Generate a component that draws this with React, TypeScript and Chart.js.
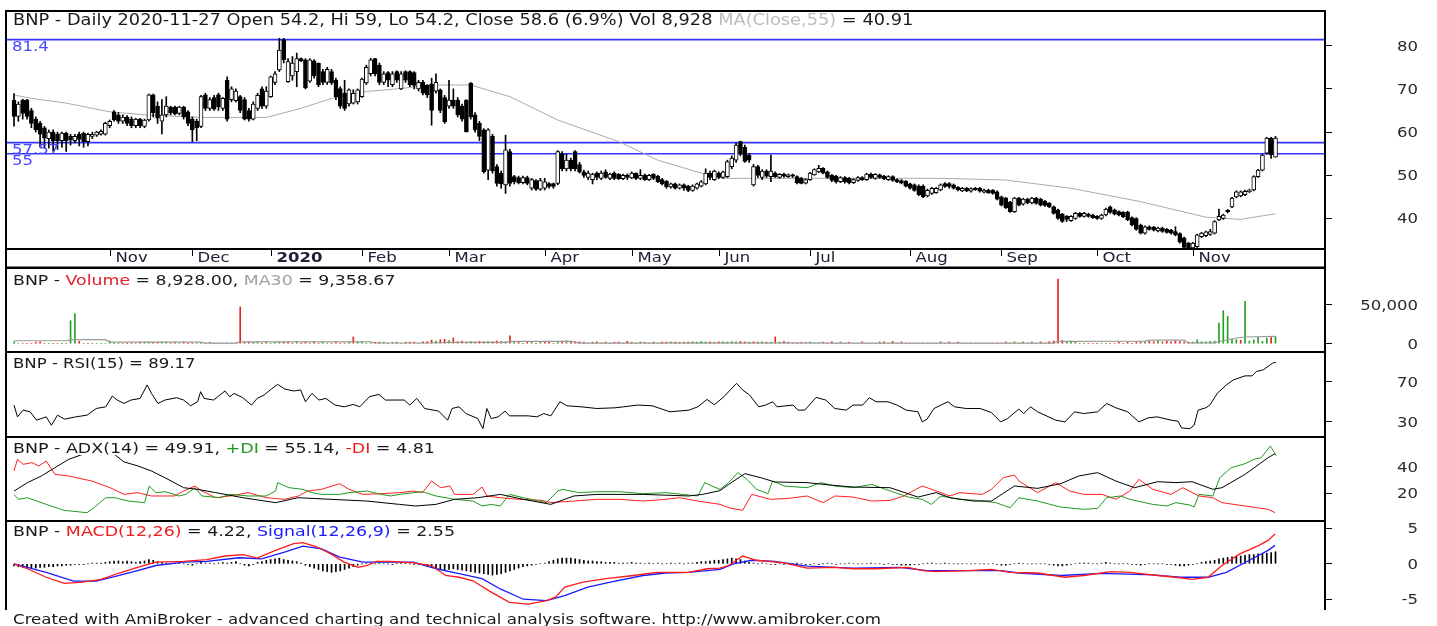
import React, { useEffect, useRef } from "react";
import { Chart, registerables } from "chart.js";

Chart.register(...registerables);

const FONT = '"DejaVu Sans", Verdana, sans-serif';
const STRETCH = 1.18;
const INK = "#1a1a1a";

// ---------------- price data (bar index 0 .. 290) ----------------
const opens = [
  67.4,63.6,67.4,67.4,65,63,62,61,58.5,60,
  59.5,58,59.8,59,58,59.5,59.7,57.8,59,59.3,
  59.5,59.5,61.5,64.7,64,62.5,63.5,63,61.5,63,
  61.3,62.8,68.6,66,62.5,64,65.8,65.8,64.3,65.8,
  64.7,63,62.5,61.3,68.6,65.5,68,68.6,65.5,72,
  67.5,67.3,68.2,67.5,65,63,65.5,70,66,68.2,
  71.5,74.4,81.4,71.7,73,74,77,76.7,71.8,76.5,
  75.9,74,71.5,74,72,70.1,69,66.5,66.7,67,
  68.2,71.4,73.5,77,75.5,71.5,73.8,71,74,70,
  74,74,73.8,70,71.5,70.8,71.1,69.5,69.8,68,
  66,67.4,67.4,66,67.4,71.3,64,62,60.5,51.2,
  59,52,50.5,47.8,55.5,49.7,49.5,48.3,49.5,47,
  48.8,46.8,47,48.1,48.1,48.1,55,51.5,53.5,55.5,
  52.5,50.8,49.5,49,50.5,49.3,50.8,49.3,50.5,50.2,
  49.2,50,49.4,50.5,49.3,50,49,50.2,49.8,49,
  48.6,47.3,48,47,47.8,47.5,46.5,47,47.5,48,
  50.5,49,50.5,49.5,49.7,52,53.5,57.8,56.5,54.7,
  47.8,52,49.5,51,49.7,50.5,49.5,50.2,49.7,50.1,
  49.7,49.3,48.2,49,50.1,50.8,51.6,50.8,50,49.8,
  48.5,49.5,49.3,48.3,48.8,49.5,49,50.3,49.3,50.1,
  49.8,49,49.7,49,48.8,48.6,48,47.8,47.5,47.5,
  45.2,45.8,46,46.6,48.1,48.1,47.8,47.2,46.4,47,
  46.3,47,47,46.1,46.6,46.5,46.2,45,44.7,43.8,
  41.6,44.7,43.3,44.5,43.6,44.7,44.5,44,43.5,42.7,
  42,41,40.5,39.5,40,41.2,40.5,41,40.8,40.5,
  40,40.8,42.7,42,41.6,41.4,41.5,40.2,40,38.5,
  36.6,38.1,38,37.1,37.8,37.5,37.3,37,36.5,35.5,
  34.3,33.2,33.5,35.8,36,36.3,36.6,39.7,40,41.9,
  42.7,45,45.2,45.5,46.2,46.6,49.7,51.2,55.1,58.6,54.2,
];
const highs = [
  68.9,67,67.6,67.6,65.5,63.5,62.5,61.3,60.5,60.5,
  60,60,60,59.5,59.5,60,60,59.8,60,60.2,
  60.5,62.3,62.8,65,64.5,64,63.8,63.5,63.2,63.2,
  63,68.8,68.8,67,67.5,68.2,66,66,66,66,
  65,63.5,63,68.5,69,68,68.5,69,68,72.8,
  70.5,70,68.5,68,65.5,67,69,70.5,70.5,73,
  74,81.7,81.7,77,77.5,78.3,77.2,77,77,76.8,
  76,74.5,75,74.5,72.5,70.5,72,70,69.8,70,
  72.5,75.5,77.1,77.1,76,74,74,74,74.2,74,
  74.2,74.2,74,72,72,71,72.5,73.5,70,68.5,
  72,70,68,66.5,67.5,71.5,64.5,62.5,60.8,60.8,
  59.5,52.5,51,59.3,56,50,49.8,49.8,49.8,49.3,
  49,49.3,49.3,48.3,48.2,55.7,55.5,55,54,55.7,
  53,51.2,51,50.5,50.8,51,51.3,50.5,50.8,50.4,
  50.3,50.3,50.8,50.6,51.3,50.3,50.2,50.4,50,49.3,
  48.8,48.2,48.2,48,48,47.7,47.8,48.2,48.8,51.5,
  51,51.2,50.8,51,53.5,54.5,57.4,57.9,57,55,
  52.5,52.3,51.3,51.3,54.7,50.8,50.4,50.5,50.3,50.3,
  49.9,49.5,49.2,50.7,51.5,52.3,51.8,51,50.2,50,
  49.7,49.7,49.5,49.2,49.7,49.7,50.5,50.5,50.4,50.3,
  50,49.9,49.9,49.2,49,48.8,48.2,48,47.8,47.8,
  46.8,47.2,47.2,48,48.3,48.3,48,47.4,47.2,47.2,
  47.1,47.2,47.2,46.8,46.8,46.7,46.4,45.2,44.9,44,
  44.9,44.9,44.7,44.7,44.9,44.9,44.7,44.2,43.7,42.9,
  42.2,41.2,40.7,40.7,41.4,41.4,41.4,41.2,41,40.7,
  41,42.4,42.9,42.2,41.8,41.6,41.7,40.4,40.2,38.7,
  38.3,38.3,38.2,38,38,37.7,37.5,38.1,36.7,35.7,
  34.5,34.5,36.4,36.8,37.1,37.5,39.5,42.2,41,42.1,
  44.9,46.4,46.4,46.6,46.8,49.9,51.4,54.9,58.8,58.8,59,
];
const lows = [
  61.4,62.5,63,63,61,60,56.5,56.3,56.3,55.5,
  56,56.5,55.5,57,57.5,56.8,56.5,56.8,58.5,59,
  59.3,59.3,61,62.5,62,62,61.5,61,61,61,
  61,62.5,63.5,62,59.6,63.5,64,64,64,63,
  61.5,57.8,58,61,65,65,65,65,65,62.5,
  67,67,64.5,62.8,62.5,62.8,65,65.5,65.5,68,
  71,74,76,71.5,72,70.5,76.3,70,71.5,72.5,
  70.5,71,71,71,67.5,65.5,65,66,66.5,66.5,
  68,71,73,73,71,71,70.5,70.5,71.5,69.8,
  71.5,70.5,70,69.5,68.6,68,61.6,69,64.5,62,
  65.5,65.5,63.5,62.5,60,63,60,58,50.5,49,
  50.5,47.5,47,45.8,47.5,48,48,48,47.8,46.6,
  46.5,46.5,46.6,47,47,47.8,51,51,51,51,
  50.5,49.5,49,48,49,49,49.3,49,49,49,
  49,49,49.2,49,49,48.8,48.8,49,48.3,47.8,
  47,47,46.8,46.8,46.5,46.2,46.3,46.8,47.3,47.8,
  49,48.8,49.2,49.3,49.5,51.5,53,54.5,53,53,
  47.5,49.5,49,49.5,48.5,49.5,49.3,49.5,49.5,49.5,
  48,48,48,48.8,50,50.6,50.3,49.3,48.5,48.2,
  48.3,48.2,48,48.1,48.6,48.8,48.8,49.3,49.1,49.3,
  49,48.8,48.6,48.3,48,47.3,46.8,46.3,45.3,44.8,
  45,45.6,45.8,46.4,47.2,47,46.8,46.4,46.2,46.2,
  46.1,46.5,46.1,45.9,45.8,45.6,44.3,42.9,42.3,41.4,
  41.4,42.9,43.1,43.4,43.4,43.3,42.9,42.8,42.5,41,
  39.8,39.1,39.3,39.3,39.8,40.3,40.3,40.3,40,39.8,
  39.8,40.6,41.2,40.8,40.6,40.2,39.5,38.3,37.3,36.4,
  36.4,37.3,37.1,36.9,36.8,36.6,36.4,36,34.3,33.1,
  33,33,33.3,35.6,35.8,36.1,36.4,39.5,39.8,41.3,
  42.5,44.8,45,45.3,46,46.4,49.5,51,54.9,53.9,54.2,
];
const closes = [
  63.6,66.5,64.3,63.6,62,60.5,59.5,58.6,60,58,
  58,59.8,58,58.2,59,58.3,57.8,59.5,59.5,60,
  60.2,62,62.5,62.8,62.5,63.5,62,61.5,63,61.5,
  62.8,68.6,64.5,63.2,64,66,64.5,64.2,65.8,63.5,
  62,60.5,61,68.2,65.5,67.5,65.3,65.8,67.8,63,
  70,69.5,65,63,63,66.5,68.5,66,69.5,72.8,
  73.5,79,76.7,76.3,76,77,76.5,70.2,76.7,73,
  70.9,71.5,74.5,71.4,68.2,66,65.5,69.8,69,69.8,
  72.3,75,76.7,73.5,71.5,73.5,72,73.5,72,73.5,
  72,71,70.8,71.5,69,68.6,65,71.5,65,62.4,
  67.4,66,64,63,60.1,63.5,60.5,59,50.8,60.5,
  51,48.1,48,55.9,48.1,48.5,48.3,49.5,48.1,49,
  46.8,48.8,48.5,47.4,47.4,55.5,51.5,53.5,51.5,51.5,
  50.8,50,50.5,50.3,49.5,50.5,49.5,50.3,49.3,49.2,
  50,49.5,50.5,49.3,50,49,50,49.3,48.5,48,
  47.3,48,47,47.8,47,46.5,47.5,48,48.5,50.5,
  49.5,51,49.5,50.8,53.2,54,57,55,53.2,53.5,
  52,50,51,49.8,51,49.7,50.2,49.8,50.1,49.8,
  48.3,48.1,49,50.5,51.3,51.6,50.5,49.5,48.8,48.5,
  49.5,48.5,48.3,49,49.5,49,50.3,49.5,50.2,49.5,
  49.2,49.7,48.8,48.5,48.2,47.5,47,46.5,45.5,45,
  46.5,47,47,47.8,47.4,47.4,47,46.6,47,46.4,
  46.9,46.7,46.3,46.6,46,45.8,44.5,43.1,42.5,41.6,
  44.7,43.1,44.5,43.6,44.7,43.5,43.1,43,42.7,41.2,
  40,39.3,39.8,40.5,41.2,40.5,41.2,40.5,40.2,40,
  40.8,42.2,41.4,41,40.8,40.4,39.7,38.5,37.5,36.6,
  38.1,37.5,37.3,37.8,37,36.8,36.6,36.2,34.5,33.3,
  33.2,34.3,36.2,36.6,36.9,37,39.3,40.5,40.8,41.5,
  44.7,46.2,46.2,46.3,46.6,49.7,51.2,54.7,58.6,54.8,58.6,
];

// MA(Close,55): [bar, value]
const ma55Points = [
  [0,68.6],[4,67.8],[12,66.7],[22,64.7],[30,64],[43,63.4],[58,63.4],[66,65.5],[73,67.8],
  [81,69.4],[89,70.1],[96,70.9],[105,70.9],[114,68.2],[125,62.8],[139,57.8],[148,53.5],
  [158,50.5],[163,49.3],[213,49.3],[228,48.9],[243,47],[259,43.9],[274,40.3],[282,39.8],[290,41.1],
];

const levelValues = [81.4, 57.57, 55];
const levelLabels = ["81.4", "57.57", "55"];

// x-axis month marks (bar index of first bar of each month)
const monthTicks = [22, 41, 59, 80, 100, 122, 142, 162, 183, 206, 227, 249, 271];
const monthNames = ["Nov", "Dec", "2020", "Feb", "Mar", "Apr", "May", "Jun", "Jul", "Aug", "Sep", "Oct", "Nov"];

// ---------------- volume ----------------
const volumes = [
  2500,0,0,0,0,2000,2500,0,0,0,
  0,0,0,29500,38500,3000,0,0,0,0,
  0,0,3500,0,0,0,0,0,0,2000,
  2000,2200,1800,2000,2500,2000,0,2200,0,2500,
  0,0,0,0,0,2000,0,0,0,0,
  0,0,47000,2000,2200,1800,2000,0,2500,0,
  2200,2500,2300,2000,0,2200,0,1900,0,2000,
  0,2000,0,0,2100,0,0,2200,8600,2300,
  2000,0,0,1900,2000,2200,0,1800,2000,0,
  2000,2200,2100,0,2300,2600,4500,3500,5200,5500,
  4000,7300,2500,3500,2000,2800,2200,3000,2500,2800,
  2500,3200,2700,2400,10200,3000,2500,0,2200,2000,
  0,1800,2100,1900,0,2200,3500,4000,3200,2500,
  2400,2200,0,2000,2300,0,2100,0,1900,2200,
  0,3000,2000,0,2200,1800,0,2000,0,2000,
  2100,2300,2200,1900,2000,2200,2500,2000,2800,2200,
  2400,2100,2500,2300,2000,2600,2400,2800,2300,2100,
  2500,2200,2400,2000,2100,8600,2200,3000,2000,0,
  0,1900,0,2000,0,0,2100,0,2500,0,
  2200,0,2000,0,0,2400,0,0,0,2200,
  2500,0,2800,0,2300,0,0,0,0,0,
  0,0,0,2600,0,2200,0,2000,0,0,
  0,0,0,0,0,0,0,0,2300,0,
  2400,0,2200,0,2000,0,2300,0,2600,3500,
  83000,4000,2200,3500,2800,0,0,0,0,0,
  0,0,0,0,2200,0,2000,0,2300,2500,
  2800,3000,2500,4000,2200,3200,2500,3500,2800,2200,
  2000,2200,5000,2500,2300,3000,3500,26500,42300,35000,
  6000,5000,4500,54200,3500,5000,8100,3000,7000,8000,8928,
];
const ma30Points = [
  [0,3800],[12,3800],[13,4800],[14,5100],[21,5100],[22,2100],[43,2100],[44,800],[51,800],
  [52,2400],[82,2400],[83,900],[95,900],[100,1800],[113,1800],[114,3000],[128,3000],[130,800],
  [186,1000],[188,800],[239,800],[240,3000],[260,3200],[261,4500],[269,4500],[270,1000],
  [276,1000],[277,2500],[279,5100],[281,7300],[283,8600],[290,9359],
];

// ---------------- RSI(15) ----------------
const rsiPoints = [
  [0,46.7],[0.8,35],[2.1,41.7],[3.7,40],[5.2,31.7],[7.4,35],[8.6,26.7],[10,36.7],[11.6,32.7],
  [14.2,35],[16.8,36.7],[18.9,43.3],[21.1,45],[22.6,55.7],[23.7,51.7],[25.3,48.3],[26.9,51.7],
  [29,53.3],[30.6,66.7],[31.6,58.3],[33.1,48.3],[34.7,51.7],[37.4,54],[39,51.7],[40.6,46],
  [42.2,50],[42.9,60],[43.7,53.3],[45.9,51.7],[48.5,60.7],[49.6,55],[50.6,58.3],[52.6,54],
  [54.6,46.7],[55.9,53.3],[57.5,56.7],[58.9,61.7],[60.6,67.3],[62.2,62.7],[64.3,60.7],
  [65.9,61.7],[67,50],[68.5,58.3],[70.1,51.7],[71.7,53.3],[73.8,46.7],[75.9,45],[78,47.3],
  [79.5,45],[81.7,55],[83.9,57.3],[85.4,51.7],[89.7,51.7],[91,46.7],[92.6,53.3],[94.4,43.3],
  [97.6,40.7],[99.7,31.7],[100.7,43.3],[102.3,45],[103.9,38.3],[106.6,33.3],[107.8,23.3],
  [108.7,43.3],[109.7,33.3],[111.3,35],[112.9,40.7],[113.9,36],[118.2,36],[120.2,35],
  [121.8,38.3],[123.4,36],[125.5,50],[127.1,46],[130.3,45],[134,43.3],[138.2,44],[140.2,45],
  [143.4,46.7],[146.7,46],[150.8,40],[155.2,41.7],[157.2,45],[159.3,52.3],[161,47],[163.2,55],
  [166.1,68.3],[167.5,61.7],[169.1,56.7],[171.2,45],[172.8,46.7],[174.4,50],[175.4,45],
  [179.1,46.7],[180.2,41.7],[181.8,41.7],[184.4,54.3],[186.6,51.7],[188.7,43.3],[191.3,41.7],
  [192.9,46.7],[195.1,46.7],[196.6,54],[198.2,50],[200.9,50],[203,46.7],[205.1,41.7],
  [207.8,40],[208.8,30],[209.9,32.7],[211.5,43.3],[213.1,46.7],[214.7,50],[216.2,45],
  [218.9,43.3],[222.1,43.3],[224.7,39.3],[226.8,30],[228.4,33.3],[231,42.7],[232.1,38.3],
  [233.7,45],[235.3,40],[239.5,31.7],[241.6,30],[243.8,40],[245.9,38.3],[249.1,40],
  [251.2,48.3],[253.3,44],[256,40],[258.6,30],[260.7,34],[262.8,35],[266,31.7],[267.6,30.7],
  [268.4,24],[270.3,23.3],[271.3,26.7],[272.2,41.7],[274,44],[274.9,46.7],[276.6,58.3],
  [278.7,66.7],[280.3,71.7],[283,75.7],[284.6,75.7],[285.6,80],[287.2,81.7],[289.3,88.3],[290.1,89.2],
];

// ---------------- ADX(14), +DI, -DI ----------------
const adxPoints = [
  [0,21.7],[3.1,28],[6.3,33],[9.4,39.2],[12.6,45.5],[15.8,49.2],[18.6,53.5],[20.9,54.5],
  [22,52],[25.3,43.5],[28.5,40.5],[31.6,36.7],[34.7,31.7],[39,24.2],[42.1,23],[46.4,20.5],
  [52.6,16.7],[60.1,13],[65.3,16.7],[72.8,15.5],[81.1,14.2],[88.6,11.7],[92.3,10.5],[97,11.7],
  [101.3,15.5],[106.6,16.7],[111.8,19.2],[117.1,15.5],[123.4,11.7],[128.7,18],[134,19.2],
  [144.5,19.2],[155.1,18],[158.3,19.2],[162.3,22],[164.3,26.7],[168,34.7],[171.7,31.7],
  [174.9,28.5],[182.3,28],[187.6,26.2],[192.9,24.7],[201.4,24.2],[207.8,17.2],[212,20.5],
  [215.2,16.7],[220.5,14.2],[224.7,14.2],[230,25.5],[235.3,23.7],[240.6,27.2],[244.8,33],
  [249.1,35.5],[253.3,29.2],[257.6,24.2],[262.9,28.7],[267.1,28],[270.8,28.7],[275.6,23],
  [277.7,24.2],[283,34.2],[288.3,46.7],[289.9,49.7],
];
const plusDiPoints = [
  [0,19.2],[1,15.5],[3.1,16.7],[7.4,11.7],[11.6,7.2],[16.8,5.5],[17.9,8],[21.1,16.7],[23.2,16.7],
  [26.3,14.2],[30,13],[31.1,25.5],[32.6,20.5],[34.8,21.2],[37.9,18],[39.5,19.2],[41.6,24.2],
  [43.2,18],[47.4,16.7],[49.6,19.2],[53.8,18],[58,18],[60.1,21.7],[60.6,28],[63.2,24.2],
  [66.4,23],[68.5,20.5],[70.7,19.2],[74.9,19.2],[77,20.5],[81.2,21.7],[84.4,19.2],[86.5,18],
  [89.7,19.7],[93.9,21.2],[97,18],[101.3,15.5],[105.5,14.2],[107.6,10.5],[109.7,11.7],
  [111.8,10.5],[113.9,19.2],[117.1,16.7],[122.4,13],[125,21.7],[126.1,23],[129.8,20.5],
  [134,21.2],[139.3,21.2],[144.6,19.7],[149.8,20.5],[155.1,18.7],[157.2,18],[158.8,28],
  [160.4,25.5],[162.3,23],[164.3,28],[166.4,35.5],[168.5,30.5],[170.7,23],[173.3,19.7],
  [174.4,29.2],[177,25.5],[182.3,24.2],[185.5,28],[188.7,25.5],[192.9,24.2],[197.2,26.7],
  [200.3,23],[205.6,17.2],[208.8,15.5],[210.9,11.7],[213.1,18],[217.2,15.5],[221.5,14.7],
  [225.7,13],[229,9.2],[231,16.7],[235.3,14.2],[240.6,9.7],[245.9,8],[249.1,8.7],[251.2,16.7],
  [254.4,18],[256.5,15.5],[261.8,11.7],[265,10.5],[267.1,13],[270.3,11.2],[271.3,9.7],
  [272.4,19.2],[275.6,18],[277.2,31.7],[279.8,39.2],[283,42.2],[285.1,45.5],[286.7,46.7],
  [288.8,55.5],[290.2,48],
];
const minusDiPoints = [
  [0,36.7],[0.8,45.5],[2.1,41.7],[4.1,43],[5.7,40.5],[7.4,44.2],[9.4,34.2],[12.6,33],
  [17.9,29.2],[22.1,24.2],[25.3,19.2],[28.4,20.5],[31.6,18],[36.9,18],[39,21.7],[41.6,25.5],
  [43.2,21.7],[46.4,16.7],[49.6,18],[53.8,20.5],[58,16.7],[62.2,15.5],[65.4,18],[67.5,21.7],
  [70.7,23],[74.9,27.2],[77,23],[80.2,19.2],[84.4,19.7],[88.6,20.5],[91.8,21.7],[93.9,20.5],
  [96,29.2],[98.1,24.2],[100.2,25.5],[101.3,19.2],[105.5,19.2],[107.6,24.7],[108.7,18],
  [111.8,16.7],[116,15.5],[121.3,14.7],[123.4,13],[128.7,14.2],[134,15.5],[139.3,15.5],
  [144.6,14.2],[149.8,15.5],[153,16.7],[157.2,14.2],[162.3,11.7],[164.3,9.2],[167.5,7.2],
  [169.6,19.2],[173.9,15.5],[178.1,16.2],[182.3,18],[186,13],[188.7,18],[192.9,17.2],
  [197.2,14.2],[201.4,14.7],[204.6,18],[208.8,25.5],[212,21.7],[215.2,18],[217.3,20.5],
  [222.6,19.2],[224.7,23],[227.4,31.7],[230,33.7],[231,29.2],[235.3,20.5],[239.5,28],
  [242.7,21.7],[245.9,19.2],[250.1,19.2],[253.3,15.5],[256.5,21.7],[258.6,30.5],[261.8,23],
  [266,19.2],[268.7,24.2],[272.4,18],[275.6,16.7],[277.7,13],[283,10.5],[288.3,8],[289.9,5.5],
];

// ---------------- MACD(12,26), Signal(12,26,9) ----------------
const macdPoints = [
  [0,0],[3.1,-0.7],[7.4,-1.9],[11.6,-2.75],[15.8,-2.6],[20,-2.2],[24.2,-1.3],[28.4,-0.5],
  [32.6,0.24],[39,0.33],[44.3,0.6],[48.5,1.1],[52.7,1.3],[55.9,0.8],[60.1,1.9],[64.3,2.85],
  [66.4,3],[69.6,2.4],[72.8,1.4],[75.9,0.24],[79.1,-0.5],[81.2,-0.24],[83.3,0.33],[86.5,0.33],
  [91.8,0.14],[96,-0.24],[99.2,-1.65],[102.3,-1.9],[105.5,-2.4],[109.7,-4],[113.9,-5.45],
  [118.2,-5.7],[122.4,-5.2],[124.5,-4.7],[126.6,-3.3],[130.8,-2.6],[136.1,-2.1],[142.4,-1.65],
  [147.7,-1.2],[155.1,-1.2],[159.3,-0.7],[162.3,-0.6],[164.3,-0.24],[167.5,1.1],[170.7,0.5],
  [177,0.14],[182.3,-0.6],[188.7,-0.5],[192.9,-0.7],[198.2,-0.7],[205.6,-0.5],[208.8,-0.95],
  [212,-1.1],[219.4,-0.95],[224.7,-0.8],[229,-1.2],[235.3,-1.3],[241.6,-1.9],[245.9,-1.65],
  [252.2,-1.1],[256.5,-1.2],[262.9,-1.65],[267.1,-1.9],[270.8,-2.2],[274.5,-1.9],[277.7,-0.24],
  [281.8,1.4],[286.2,2.6],[288.3,3.3],[289.9,4.2],
];
const signalPoints = [
  [0,0],[7.4,-1.2],[13.7,-2.45],[18.9,-2.45],[24.2,-1.65],[28.4,-0.95],[32.6,-0.24],[39,0.24],
  [44.3,0.33],[51.7,0.85],[56.9,0.7],[62.2,1.66],[66.4,2.5],[70.7,2.1],[74.9,0.95],[80.2,0.24],
  [85.4,0.24],[91.8,0.24],[97.1,-0.7],[102.3,-1.4],[107.6,-2.1],[111.8,-3.55],[117.1,-5],
  [122.4,-5.2],[126.6,-4.5],[131.9,-3.3],[137.1,-2.6],[144.6,-1.65],[149.8,-1.3],[155.1,-1.2],
  [162.3,-0.8],[165.4,0],[169.6,0.5],[174.9,0.33],[182.3,-0.33],[192.9,-0.6],[203.5,-0.5],
  [209.9,-0.95],[219.4,-0.95],[226.8,-0.95],[231,-1.3],[240.6,-1.65],[250.1,-1.35],
  [261.8,-1.55],[268.1,-1.9],[274.5,-1.9],[278.7,-1.2],[284,0.5],[288.3,1.9],[289.9,2.6],
];
const macdHist = [
  -0.3,-0.4,-0.5,-0.5,-0.6,-0.6,-0.5,-0.5,-0.4,-0.4,
  -0.3,-0.3,-0.2,-0.2,-0.1,-0.1,-0.1,0,0.1,0.1,
  0.1,0.2,0.3,0.4,0.4,0.3,0.4,0.3,0.2,0.3,
  0.4,0.6,0.5,0.3,0.2,0.1,0,0.1,0.1,0,
  -0.1,-0.2,0,0.2,0.1,0.1,0,0.1,0.2,0.1,
  0.2,0.3,0,-0.2,-0.3,-0.1,0.2,0.3,0.5,0.6,
  0.7,0.8,0.6,0.5,0.4,0.3,0.1,-0.2,-0.4,-0.6,
  -0.8,-1,-1.1,-1.2,-1.1,-1,-0.8,-0.6,-0.4,-0.2,
  0,0.1,0.1,0,0.1,0,0,-0.1,0,0.1,
  0.1,0,-0.1,-0.1,-0.2,-0.3,-0.5,-0.6,-0.8,-0.9,
  -0.8,-0.7,-0.8,-0.9,-1,-1.1,-1.2,-1.3,-1.4,-1.5,
  -1.6,-1.5,-1.4,-1.2,-1,-0.8,-0.6,-0.4,-0.3,-0.2,
  -0.1,0,0.1,0.3,0.5,0.7,0.8,0.8,0.8,0.7,
  0.6,0.5,0.4,0.4,0.3,0.3,0.2,0.2,0.2,0.1,
  0.1,0.1,0.2,0.1,0.1,0,0.1,0,0.1,0,
  0,0.1,0,0.1,0,0.1,0.1,0.2,0.3,0.3,
  0.4,0.5,0.5,0.6,0.7,0.8,0.7,0.6,0.4,0.2,
  0.1,0,0.1,0,-0.1,-0.1,0,-0.1,0,0,
  0.1,0,-0.1,-0.1,0,-0.1,0,0.1,0,-0.1,
  0,0,0.1,0,0,0,0,0.1,0,0,
  -0.1,0,-0.1,-0.1,-0.2,-0.2,-0.2,-0.1,-0.1,0,
  0.1,0.1,0,0,0.1,0,0,0,0,0,
  0,0,0,0,0,0,-0.1,-0.2,-0.2,-0.1,
  0,0.1,0,0,0,0,0,0,-0.1,-0.2,
  -0.3,-0.3,-0.2,-0.1,0,0.1,0.1,0.1,0,0,
  0.1,0.2,0.1,0,0,0,0,-0.1,-0.1,-0.2,
  -0.1,0,0,0,0,-0.1,-0.1,-0.2,-0.3,-0.3,
  -0.2,-0.1,0,0.2,0.3,0.4,0.5,0.7,0.8,0.9,
  1,1.1,1.1,1.2,1.3,1.3,1.4,1.4,1.5,1.6,1.7,
];

// axis ticks
const priceTicks = [40, 50, 60, 70, 80];
const volumeTicks = [0, 50000];
const rsiTicks = [30, 70];
const adxTicks = [20, 40];
const macdTicks = [-5, 0, 5];

// pane titles: [text, colour]
const priceTitle = [
  ["BNP - Daily 2020-11-27 Open 54.2, Hi 59, Lo 54.2, Close 58.6 (6.9%) Vol 8,928 ", INK],
  ["MA(Close,55)", "#bdbdbd"],
  [" = 40.91", INK],
];
const volumeTitle = [["BNP - ", INK], ["Volume", "#e0202a"], [" = 8,928.00, ", INK], ["MA30", "#a0a0a0"], [" = 9,358.67", INK]];
const rsiTitle = [["BNP - RSI(15) = 89.17", INK]];
const adxTitle = [["BNP - ADX(14) = 49.91, ", INK], ["+DI", "#1f9a1f"], [" = 55.14, ", INK], ["-DI", "#ee1c1c"], [" = 4.81", INK]];
const macdTitle = [["BNP - ", INK], ["MACD(12,26)", "#ee1c1c"], [" = 4.22, ", INK], ["Signal(12,26,9)", "#1a1aff"], [" = 2.55", INK]];
const footerText = "Created with AmiBroker - advanced charting and technical analysis software. http://www.amibroker.com";

// ---------------- layout constants ----------------
const W = 1437;
const X_MIN = -1.84;
const X_MAX = 301.38;
const LABEL_RIGHT = 1418;

function drawStretched(ctx, text, x, y, align, color, font) {
  ctx.save();
  ctx.font = font;
  ctx.fillStyle = color;
  ctx.textBaseline = "alphabetic";
  ctx.textAlign = "left";
  const w = ctx.measureText(text).width * STRETCH;
  const x0 = align === "right" ? x - w : x;
  ctx.translate(x0, y);
  ctx.scale(STRETCH, 1);
  ctx.fillText(text, 0, 0);
  ctx.restore();
}

function panePlugin(ticks, fmt, noBottom, extra) {
  return {
    id: "paneDeco",
    afterDraw(chart) {
      const { ctx, chartArea: a, scales } = chart;
      ctx.save();
      ctx.strokeStyle = "#000";
      ctx.lineWidth = 2;
      ctx.beginPath();
      if (noBottom) {
        ctx.moveTo(a.left, a.bottom);
        ctx.lineTo(a.left, a.top);
        ctx.lineTo(a.right, a.top);
        ctx.lineTo(a.right, a.bottom);
      } else {
        ctx.rect(a.left, a.top, a.right - a.left, a.bottom - a.top);
      }
      ctx.stroke();
      ctx.restore();
      ticks.forEach((v) => {
        const py = scales.y.getPixelForValue(v);
        drawStretched(ctx, fmt(v), LABEL_RIGHT, py + 5, "right", "#2a2a2a", `14px ${FONT}`);
      });
      if (extra) extra(chart);
    },
  };
}

function priceExtras(chart) {
  const { ctx, chartArea: a, scales } = chart;
  const xs = scales.x;
  const ys = scales.y;
  levelValues.forEach((lv, k) => {
    drawStretched(ctx, levelLabels[k], 12, ys.getPixelForValue(lv) + 11.5, "left", "#4646ff", `14px ${FONT}`);
  });
  const stripBottom = a.bottom + 18.5;
  ctx.save();
  ctx.strokeStyle = "#000";
  ctx.lineWidth = 2;
  ctx.beginPath();
  ctx.moveTo(a.left, a.bottom);
  ctx.lineTo(a.left, stripBottom);
  ctx.lineTo(a.right, stripBottom);
  ctx.lineTo(a.right, a.bottom);
  ctx.stroke();
  ctx.lineWidth = 1;
  monthTicks.forEach((m, k) => {
    const px = Math.round(xs.getPixelForValue(m)) + 0.5;
    ctx.beginPath();
    ctx.moveTo(px, a.bottom + 1);
    ctx.lineTo(px, a.bottom + 7);
    ctx.stroke();
    const bold = monthNames[k] === "2020" ? "bold " : "";
    drawStretched(ctx, monthNames[k], px + 5, a.bottom + 13, "left", "#202036", `${bold}14px ${FONT}`);
  });
  ctx.restore();
}

function pts(arr) {
  return arr.map(([x, y]) => ({ x, y }));
}

function line(data, color, order, width = 1) {
  return { type: "line", data, borderColor: color, borderWidth: width, pointRadius: 0, tension: 0, fill: false, order };
}

function makeChart(canvas, cfg) {
  return new Chart(canvas, {
    type: "line",
    data: { datasets: cfg.datasets },
    options: {
      responsive: false,
      animation: false,
      events: [],
      devicePixelRatio: 1,
      layout: { padding: { left: 6, right: 19, top: cfg.padTop, bottom: cfg.padBottom } },
      plugins: { legend: { display: false }, tooltip: { enabled: false } },
      scales: {
        x: { type: "linear", min: X_MIN, max: X_MAX, display: false, offset: false },
        y: {
          type: "linear",
          position: "right",
          min: cfg.yMin,
          max: cfg.yMax,
          afterBuildTicks: (s) => {
            s.ticks = cfg.ticks.map((v) => ({ value: v }));
          },
          afterFit: (s) => {
            s.width = 93;
            s.paddingTop = 0;
            s.paddingBottom = 0;
          },
          ticks: { display: false },
          grid: { drawOnChartArea: false, drawTicks: true, tickLength: 7, color: "#000", lineWidth: 1 },
          border: { display: false },
        },
      },
    },
    plugins: [panePlugin(cfg.ticks, cfg.fmt, cfg.noBottom, cfg.extra)],
  });
}

const GREEN = "#22a022";
const RED = "#e82020";

function PaneTitle({ baseline, parts, stretch, size = 14 }) {
  return (
    <div
      style={{
        position: "absolute",
        left: 13,
        top: baseline - Math.round(size * 0.86),
        font: `${size}px ${FONT}`,
        lineHeight: `${size}px`,
        whiteSpace: "nowrap",
        transform: `scaleX(${stretch})`,
        transformOrigin: "0 0",
        background: "#fff",
      }}
    >
      {parts.map(([t, c], i) => (
        <span key={i} style={{ color: c }}>
          {t}
        </span>
      ))}
    </div>
  );
}

export default function App() {
  const priceRef = useRef(null);
  const volRef = useRef(null);
  const rsiRef = useRef(null);
  const adxRef = useRef(null);
  const macdRef = useRef(null);

  useEffect(() => {
    const idx = closes.map((_, i) => i);
    const charts = [];

    charts.push(
      makeChart(priceRef.current, {
        yMin: 32.94,
        yMax: 88.03,
        ticks: priceTicks,
        fmt: (v) => String(v),
        padTop: 11,
        padBottom: 23,
        extra: priceExtras,
        datasets: [
          {
            type: "bar",
            data: idx.map((i) => ({ x: i, y: [opens[i], closes[i]] })),
            backgroundColor: idx.map((i) => (closes[i] >= opens[i] ? "#ffffff" : "#000000")),
            borderColor: "#000",
            borderWidth: 1,
            borderSkipped: false,
            barThickness: 4,
            grouped: false,
            order: 0,
          },
          {
            type: "bar",
            data: idx.map((i) => ({ x: i, y: [lows[i], highs[i]] })),
            backgroundColor: "#000",
            borderWidth: 0,
            barThickness: 1,
            grouped: false,
            order: 1,
          },
          line(pts(ma55Points), "#ababab", 2),
          ...levelValues.map((lv) =>
            line([{ x: X_MIN, y: lv }, { x: X_MAX, y: lv }], "#3434ff", 3, 1.6)
          ),
        ],
      })
    );

    charts.push(
      makeChart(volRef.current, {
        yMin: -10640,
        yMax: 97050,
        ticks: volumeTicks,
        fmt: (v) => v.toLocaleString("en-US"),
        padTop: 2,
        padBottom: 2,
        datasets: [
          line(pts(ma30Points), "#9a9a9a", 0, 1.2),
          {
            type: "bar",
            data: idx.map((i) => ({ x: i, y: volumes[i] })),
            backgroundColor: idx.map((i) => (i === 0 || closes[i] > closes[i - 1] ? GREEN : RED)),
            borderWidth: 0,
            barThickness: 1,
            grouped: false,
            order: 1,
          },
        ],
      })
    );

    charts.push(
      makeChart(rsiRef.current, {
        yMin: 15,
        yMax: 99.4,
        ticks: rsiTicks,
        fmt: (v) => String(v),
        padTop: 2,
        padBottom: 2,
        datasets: [line(pts(rsiPoints), "#000", 0)],
      })
    );

    charts.push(
      makeChart(adxRef.current, {
        yMin: -0.75,
        yMax: 62.2,
        ticks: adxTicks,
        fmt: (v) => String(v),
        padTop: 2,
        padBottom: 2,
        datasets: [
          line(pts(adxPoints), "#000", 0),
          line(pts(plusDiPoints), "#1f9a1f", 1),
          line(pts(minusDiPoints), "#ff1f1f", 2),
        ],
      })
    );

    charts.push(
      makeChart(macdRef.current, {
        yMin: -6.52,
        yMax: 6.04,
        ticks: macdTicks,
        fmt: (v) => String(v),
        padTop: 2,
        padBottom: 2,
        noBottom: true,
        datasets: [
          line(pts(macdPoints), "#ff1a1a", 0, 1.3),
          line(pts(signalPoints), "#1a1aff", 1, 1.3),
          {
            type: "bar",
            data: idx.map((i) => ({ x: i, y: macdHist[i] })),
            backgroundColor: "#000",
            borderWidth: 0,
            barThickness: 1,
            grouped: false,
            order: 2,
          },
        ],
      })
    );

    return () => charts.forEach((c) => c.destroy());
  }, []);

  const cv = (top, h) => ({ position: "absolute", left: 0, top, width: W, height: h });

  return (
    <div style={{ position: "fixed", left: 0, top: 0, width: W, height: 626, background: "#fff", overflow: "hidden" }}>
      <canvas ref={priceRef} width={W} height={272} style={cv(0, 272)} />
      <canvas ref={volRef} width={W} height={88} style={cv(266, 88)} />
      <canvas ref={rsiRef} width={W} height={89} style={cv(350, 89)} />
      <canvas ref={adxRef} width={W} height={88} style={cv(435, 88)} />
      <canvas ref={macdRef} width={W} height={93} style={cv(519, 93)} />
      <PaneTitle baseline={26} parts={priceTitle} stretch={1.185} size={15} />
      <PaneTitle baseline={284.5} parts={volumeTitle} stretch={1.238} />
      <PaneTitle baseline={368} parts={rsiTitle} stretch={1.18} />
      <PaneTitle baseline={452.5} parts={adxTitle} stretch={1.245} />
      <PaneTitle baseline={536} parts={macdTitle} stretch={1.244} />
      <div
        style={{
          position: "absolute",
          left: 13,
          top: 612,
          font: `14px ${FONT}`,
          lineHeight: "14px",
          whiteSpace: "nowrap",
          color: INK,
          transform: "scaleX(1.19)",
          transformOrigin: "0 0",
        }}
      >
        {footerText}
      </div>
    </div>
  );
}
